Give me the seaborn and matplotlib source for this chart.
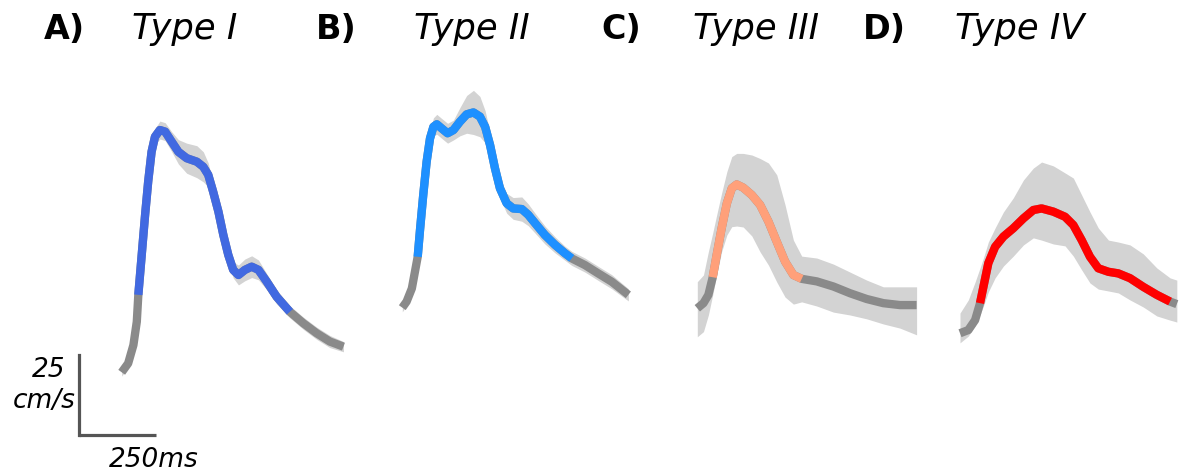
import seaborn as sns
import matplotlib.pyplot as plt
import numpy as np

# waveform data: time (ms), mean velocity (cm/s), band lower/upper (cm/s)
t_1 = [0, 21, 38, 49, 54, 65, 76, 86, 97, 108, 124, 141, 162, 184, 211, 244, 265, 281, 297,
       314, 330, 346, 362, 379, 400, 422, 444, 471, 503, 546, 590, 633, 676, 720]
v_1 = [19.6, 22.4, 28.1, 35.4, 43.8, 56.3, 68.8, 79.2, 88.5, 93.2, 95.3, 94.8, 91.7, 88.5, 86.5,
       85.4, 83.8, 81.3, 76.0, 69.8, 62.5, 56.3, 51.6, 50.0, 51.6, 52.6, 51.6, 47.9, 43.2, 38.5,
       34.9, 31.8, 29.2, 27.6]
lo_1 = [18.4, 21.2, 26.9, 34.1, 42.5, 55.0, 67.5, 77.9, 87.0, 90.7, 92.5, 92.0, 88.6, 84.7, 81.8,
        80.4, 79.1, 77.5, 73.5, 67.6, 60.3, 54.1, 49.1, 46.9, 48.2, 49.2, 48.5, 45.4, 41.0, 36.6,
        33.0, 29.9, 27.3, 26.0]
hi_1 = [20.9, 23.7, 29.4, 36.7, 45.0, 57.5, 70.0, 80.4, 90.0, 95.7, 98.1, 97.6, 94.8, 92.3, 91.2,
        90.4, 88.5, 85.0, 78.5, 72.0, 64.7, 58.5, 54.1, 53.1, 55.0, 56.0, 54.7, 50.4, 45.4, 40.4,
        36.8, 33.7, 31.1, 29.2]

t_2 = [0, 14, 31, 41, 50, 58, 68, 79, 90, 101, 112, 128, 147, 166, 187, 209, 231, 252, 269,
       285, 301, 317, 339, 360, 388, 409, 431, 463, 496, 528, 550, 593, 636, 680, 734]
v_2 = [39.8, 41.7, 45.8, 51.0, 55.7, 64.6, 75.0, 85.4, 92.7, 96.3, 97.1, 95.8, 94.3, 95.3, 97.9,
       100.2, 100.8, 99.5, 96.3, 90.6, 83.3, 77.1, 72.4, 70.8, 70.6, 68.8, 66.2, 62.5, 59.4, 56.8,
       55.2, 53.1, 50.5, 47.9, 43.8]
lo_2 = [38.5, 40.4, 44.5, 49.7, 54.4, 63.3, 73.7, 83.9, 90.5, 93.5, 94.0, 92.7, 91.2, 92.2, 93.5,
        94.3, 93.9, 93.2, 91.3, 86.8, 80.2, 74.0, 69.3, 67.4, 66.8, 65.4, 63.1, 59.7, 56.9, 54.6,
        53.0, 50.9, 48.3, 45.7, 41.9]
hi_2 = [41.1, 43.0, 47.1, 52.3, 57.0, 65.9, 76.3, 86.9, 94.9, 99.1, 100.2, 98.9, 97.4, 98.4, 102.3,
        106.1, 107.7, 105.8, 101.3, 94.4, 86.4, 80.2, 75.5, 74.2, 74.4, 72.2, 69.3, 65.3, 61.9, 59.0,
        57.4, 55.3, 52.7, 50.1, 45.7]

t_3 = [0, 20, 36, 50, 63, 79, 96, 112, 128, 149, 177, 204, 231, 258, 285, 312, 339, 388,
       442, 496, 550, 604, 658, 712]
v_3 = [39.6, 41.2, 43.8, 49.3, 56.3, 64.6, 72.4, 77.1, 78.3, 77.3, 75.0, 71.9, 66.7, 60.4, 54.2,
       50.0, 48.8, 48.0, 46.4, 44.3, 42.5, 41.2, 40.6, 40.6]
lo_3 = [30.7, 32.3, 37.5, 43.8, 50.0, 57.3, 62.5, 65.1, 65.3, 65.0, 62.2, 57.2, 53.1, 47.8, 43.1,
        40.9, 41.6, 40.3, 38.4, 37.5, 36.3, 34.7, 33.4, 31.3]
hi_3 = [47.9, 50.0, 57.3, 63.1, 68.8, 75.6, 82.3, 87.0, 88.0, 88.0, 87.5, 86.4, 85.0, 81.3, 71.9,
        60.9, 55.9, 55.3, 53.4, 50.9, 48.4, 46.3, 46.3, 46.3]

t_4 = [0, 27, 49, 65, 76, 92, 114, 141, 173, 206, 238, 265, 303, 341, 368, 395, 422, 449,
       482, 514, 552, 595, 639, 682, 704]
v_4 = [31.8, 32.8, 35.9, 41.2, 46.3, 53.7, 58.8, 62.0, 64.6, 67.7, 70.3, 70.8, 69.8, 68.2, 65.6,
       60.9, 55.7, 52.1, 51.0, 50.5, 49.0, 46.3, 43.8, 41.7, 40.9]
lo_4 = [28.8, 30.9, 34.1, 37.5, 40.3, 44.7, 49.1, 52.8, 55.9, 59.4, 61.6, 60.9, 59.7, 59.1, 55.9,
        51.6, 47.5, 45.6, 45.0, 44.4, 42.2, 40.0, 37.2, 35.9, 35.3]
hi_4 = [38.1, 42.2, 47.8, 52.2, 55.3, 60.3, 64.7, 69.7, 74.1, 79.7, 83.4, 85.3, 84.1, 81.9, 80.3,
        75.0, 69.7, 64.7, 60.9, 60.3, 59.4, 56.6, 52.2, 49.1, 48.4]

letters = ['A)', 'B)', 'C)', 'D)']
titles = ['Type I', 'Type II', 'Type III', 'Type IV']
colors = ['#4169e1', '#1e90ff', '#ffa07a', '#ff0000']
# colored (systolic) part of each trace, in ms
seg_start = [54, 50, 50, 65]
seg_end = [546, 550, 339, 682]

times = [t_1, t_2, t_3, t_4]
means = [v_1, v_2, v_3, v_4]
lows = [lo_1, lo_2, lo_3, lo_4]
highs = [hi_1, hi_2, hi_3, hi_4]

sns.set_theme(style="white")
plt.rcParams['font.family'] = ['DejaVu Sans']
plt.rcParams['text.color'] = 'black'

W, H = 1185, 471
PX_MS = 77 / 250      # px per ms
PX_V = 80 / 25        # px per cm/s
ZERO_Y = 435          # pixel row of 0 cm/s
panel_x = [121.7, 402.3, 697.3, 960]
letter_x = [44, 316, 601, 863]
title_x = [132, 414, 693, 955]

fig = plt.figure(figsize=(W / 100, H / 100), dpi=100)

for i in range(4):
    ax = fig.add_axes([(panel_x[i] - 45) / W, 0, 280 / W, 1])
    ax.set_xlim(-45 / PX_MS, 235 / PX_MS)
    ax.set_ylim((ZERO_Y - H) / PX_V, ZERO_Y / PX_V)
    ax.axis('off')
    ax.patch.set_alpha(0)

    t = np.array(times[i])
    v = np.array(means[i])
    ax.fill_between(t, lows[i], highs[i], color='#d3d3d3', lw=0)
    sns.lineplot(x=t, y=v, color='#8a8a8a', lw=6, sort=False, estimator=None,
                 ax=ax, solid_capstyle='butt', solid_joinstyle='round')
    m = (t >= seg_start[i]) & (t <= seg_end[i])
    sns.lineplot(x=t[m], y=v[m], color=colors[i], lw=6, sort=False, estimator=None,
                 ax=ax, solid_capstyle='butt', solid_joinstyle='round')

    fig.text(letter_x[i] / W, 1 - 39 / H, letters[i], fontsize=24, fontweight='bold',
             va='baseline', ha='left')
    fig.text(title_x[i] / W, 1 - 39 / H, titles[i], fontsize=25.5, style='italic',
             va='baseline', ha='left')

    if i == 0:
        # scale bars: 250 ms x 25 cm/s
        x0 = (79 - panel_x[0]) / PX_MS
        ax.plot([x0, x0 + 250], [0, 0], color='#555555', lw=2.3, clip_on=False,
                solid_capstyle='butt')
        ax.plot([x0, x0], [0, 25], color='#555555', lw=2.3, clip_on=False,
                solid_capstyle='projecting')

fig.text(49 / W, 1 - 377 / H, '25', fontsize=19, style='italic', ha='center', va='baseline')
fig.text(44 / W, 1 - 408 / H, 'cm/s', fontsize=19, style='italic', ha='center', va='baseline')
fig.text(109 / W, 1 - 467 / H, '250ms', fontsize=19, style='italic', ha='left', va='baseline')

plt.savefig('out.png', dpi=100)
